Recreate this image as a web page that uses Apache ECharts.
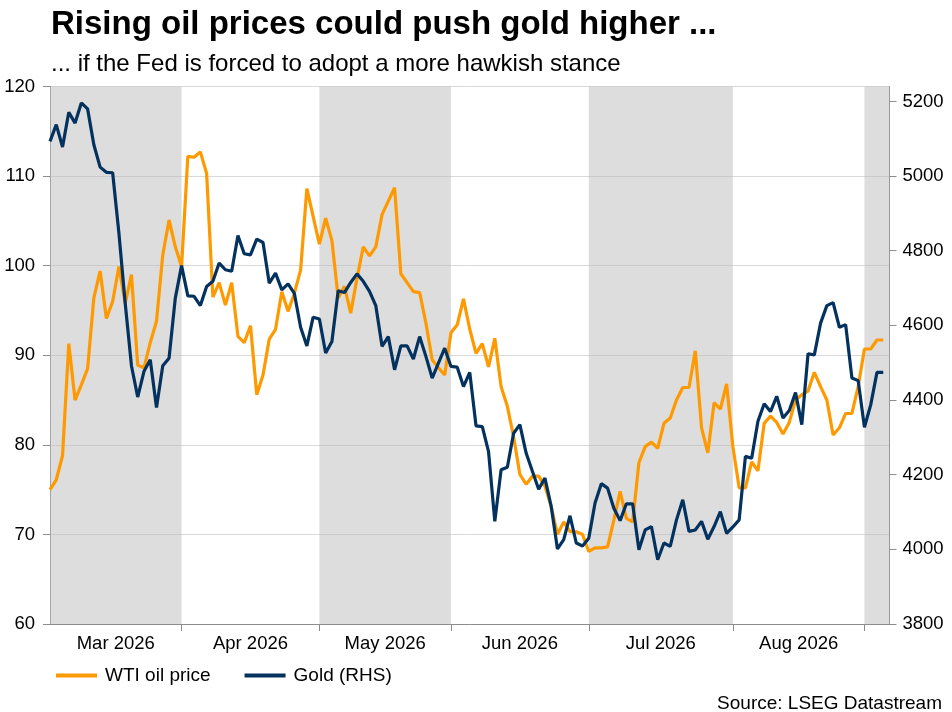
<!DOCTYPE html>
<html>
<head>
<meta charset="utf-8">
<title>Rising oil prices could push gold higher</title>
<script src="https://cdn.jsdelivr.net/npm/echarts@6/dist/echarts.min.js"></script>
<style>
  html, body { margin: 0; padding: 0; background: #fff; }
  #chart { width: 952px; height: 712px; }
</style>
</head>
<body>
<div id="chart"></div>
<script>
// trading days shown on the chart (weekdays only)
const firstDay = "2026-03-03";
const lastDay = "2026-09-04";
const monthLabels = ["Mar 2026", "Apr 2026", "May 2026", "Jun 2026", "Jul 2026", "Aug 2026", "Sep 2026"];
const shadedMonths = [0, 2, 4, 6]; // Mar, May, Jul, Sep
const oilTicks = [60, 70, 80, 90, 100, 110, 120];
const goldTicks = [3800, 4000, 4200, 4400, 4600, 4800, 5000, 5200];

// WTI oil price, USD/bbl
const oil = [
  75.0, 76.1, 78.8, 91.3, 85.0, 86.7, 88.5, 96.4, 99.4, 94.1, 96.0, 99.9, 95.8, 99.0, 88.9, 88.6, 91.4, 93.8, 101.2, 105.1, 102.1,
  99.9, 112.2, 112.1, 112.7, 110.3, 96.5, 98.1, 95.6, 98.1, 92.1, 91.4, 93.3, 85.6, 87.8, 91.8, 92.9, 97.1, 94.9, 96.9, 99.5, 108.6, 105.5,
  102.4, 105.3, 102.8, 96.4, 97.7, 94.7, 98.6, 102.1, 101.1, 102.1, 105.7, 107.2, 108.7, 99.1, 98.1, 97.1, 97.0, 93.6, 89.5, 88.6, 87.8,
  92.5, 93.4, 96.3, 92.9, 90.2, 91.3, 88.7, 91.9, 86.5, 84.3, 80.9, 76.7, 75.6, 76.5, 76.5, 75.4, 73.1, 70.0, 71.4, 70.3, 70.3, 70.0,
  68.1, 68.5, 68.5, 68.6, 71.6, 74.8, 71.8, 71.4, 78.0, 79.8, 80.3, 79.6, 82.4, 83.0, 85.0, 86.4, 86.4, 90.5, 81.9, 79.1, 84.7, 84.0, 86.8,
  79.8, 75.2, 75.2, 78.1, 77.1, 82.4, 83.2, 82.5, 81.2, 82.5, 85.0, 85.6, 86.0, 88.1, 86.5, 85.0, 81.1, 81.9, 83.5, 83.5, 86.5,
  90.7, 90.7, 91.7, 91.7
];

// Gold, USD/oz (right-hand scale)
const gold = [
  5093, 5138, 5078, 5171, 5142, 5196, 5180, 5084, 5024, 5010, 5009, 4847, 4660, 4492, 4408, 4477, 4508, 4380, 4492, 4512, 4673,
  4760, 4679, 4678, 4653, 4704, 4718, 4767, 4749, 4745, 4841, 4792, 4789, 4831, 4822, 4713, 4740, 4695, 4711, 4686, 4595, 4545, 4622,
  4617, 4526, 4557, 4693, 4688, 4715, 4738, 4718, 4691, 4653, 4544, 4570, 4481, 4545, 4545, 4510, 4570, 4517, 4459, 4499, 4539,
  4490, 4488, 4436, 4474, 4331, 4329, 4262, 4075, 4213, 4220, 4311, 4334, 4258, 4209, 4161, 4191, 4115, 4001, 4026, 4090, 4017, 4009,
  4030, 4124, 4176, 4164, 4110, 4077, 4122, 4122, 3999, 4052, 4061, 3972, 4017, 4008, 4079, 4133, 4048, 4052, 4075, 4027, 4061, 4101, 4043,
  4060, 4079, 4249, 4244, 4343, 4390, 4369, 4410, 4352, 4372, 4420, 4334, 4524, 4521, 4606, 4653, 4661, 4595, 4602, 4459, 4452,
  4327, 4387, 4474, 4474
];

const dates = [];
for (let d = new Date(firstDay + "T00:00:00Z"); d <= new Date(lastDay + "T00:00:00Z"); d.setUTCDate(d.getUTCDate() + 1)) {
  const wd = d.getUTCDay();
  if (wd > 0 && wd < 6) dates.push(d.toISOString().slice(0, 10));
}

// month boundaries as day indices; the axis runs one day past the last point
const monthStarts = [0];
for (let i = 1; i < dates.length; i++) {
  if (dates[i].slice(5, 7) !== dates[i - 1].slice(5, 7)) monthStarts.push(i);
}
const monthEdges = monthStarts.concat([dates.length]);

const labelPos = [];
const labelText = {};
for (let m = 0; m < monthEdges.length - 1; m++) {
  if (monthEdges[m + 1] - monthEdges[m] < 10) continue;
  const mid = (monthEdges[m] + monthEdges[m + 1]) / 2;
  labelPos.push(mid);
  labelText[mid] = monthLabels[m];
}

const bands = shadedMonths.map(m => [{ xAxis: monthEdges[m] }, { xAxis: monthEdges[m + 1] }]);

const FONT = "Liberation Sans, Arial, sans-serif";
const AXIS_GREY = "#8c8c8c";

const chart = echarts.init(document.getElementById("chart"));
chart.setOption({
  animation: false,
  backgroundColor: "#fff",
  textStyle: { fontFamily: FONT, color: "#000" },
  title: [
    {
      text: "Rising oil prices could push gold higher ...",
      left: 46, top: 3,
      textStyle: { fontFamily: FONT, fontSize: 33, fontWeight: "bold", color: "#000" }
    },
    {
      text: "... if the Fed is forced to adopt a more hawkish stance",
      left: 46, top: 47,
      textStyle: { fontFamily: FONT, fontSize: 24, fontWeight: "normal", color: "#000" }
    },
    {
      text: "Source: LSEG Datastream",
      right: 5, top: 689,
      textStyle: { fontFamily: FONT, fontSize: 19, fontWeight: "normal", color: "#000" }
    }
  ],
  legend: {
    left: 51, top: 661,
    icon: "rect",
    itemWidth: 41, itemHeight: 4,
    itemGap: 34,
    textStyle: { fontFamily: FONT, fontSize: 19, color: "#000", padding: [0, 0, 0, 3] },
    data: ["WTI oil price", "Gold (RHS)"]
  },
  grid: { left: 50, right: 62.5, top: 86.5, bottom: 88, containLabel: false },
  xAxis: {
    type: "value",
    min: 0,
    max: dates.length,
    splitLine: { show: false },
    axisLine: { show: true, lineStyle: { color: AXIS_GREY, width: 1 } },
    axisTick: { show: true, length: 7, customValues: monthStarts.slice(1), lineStyle: { color: AXIS_GREY } },
    axisLabel: {
      customValues: labelPos,
      margin: 10,
      fontSize: 18.5,
      fontFamily: FONT,
      color: "#000",
      formatter: v => labelText[v] || ""
    }
  },
  yAxis: [
    {
      type: "value",
      min: 60, max: 120, interval: 10,
      position: "left",
      axisLine: { show: true, lineStyle: { color: AXIS_GREY } },
      axisTick: { show: true, length: 7, customValues: oilTicks, lineStyle: { color: AXIS_GREY } },
      axisLabel: { customValues: oilTicks, margin: 15, fontSize: 18.5, fontFamily: FONT, color: "#000", formatter: v => String(v) },
      splitLine: { show: true, lineStyle: { color: "#d9d9d9", width: 1 } }
    },
    {
      type: "value",
      min: 3800, max: 5240,
      position: "right",
      axisLine: { show: true, lineStyle: { color: AXIS_GREY } },
      axisTick: { show: true, length: 7, customValues: goldTicks, lineStyle: { color: AXIS_GREY } },
      axisLabel: { customValues: goldTicks, margin: 13, fontSize: 18.5, fontFamily: FONT, color: "#000", formatter: v => String(v) },
      splitLine: { show: false }
    }
  ],
  series: [
    {
      name: "months",
      type: "line",
      data: [],
      z: 1,
      silent: true,
      markArea: {
        silent: true,
        itemStyle: { color: "rgba(188,188,188,0.5)" },
        data: bands
      }
    },
    {
      name: "WTI oil price",
      type: "line",
      yAxisIndex: 0,
      z: 3,
      data: oil.map((v, i) => [i, v]),
      showSymbol: false,
      color: "#ff9900",
      lineStyle: { color: "#ff9900", width: 3.2 }
    },
    {
      name: "Gold (RHS)",
      type: "line",
      yAxisIndex: 1,
      z: 4,
      data: gold.map((v, i) => [i, v]),
      showSymbol: false,
      color: "#04325f",
      lineStyle: { color: "#04325f", width: 3.2 }
    }
  ]
});
</script>
</body>
</html>
